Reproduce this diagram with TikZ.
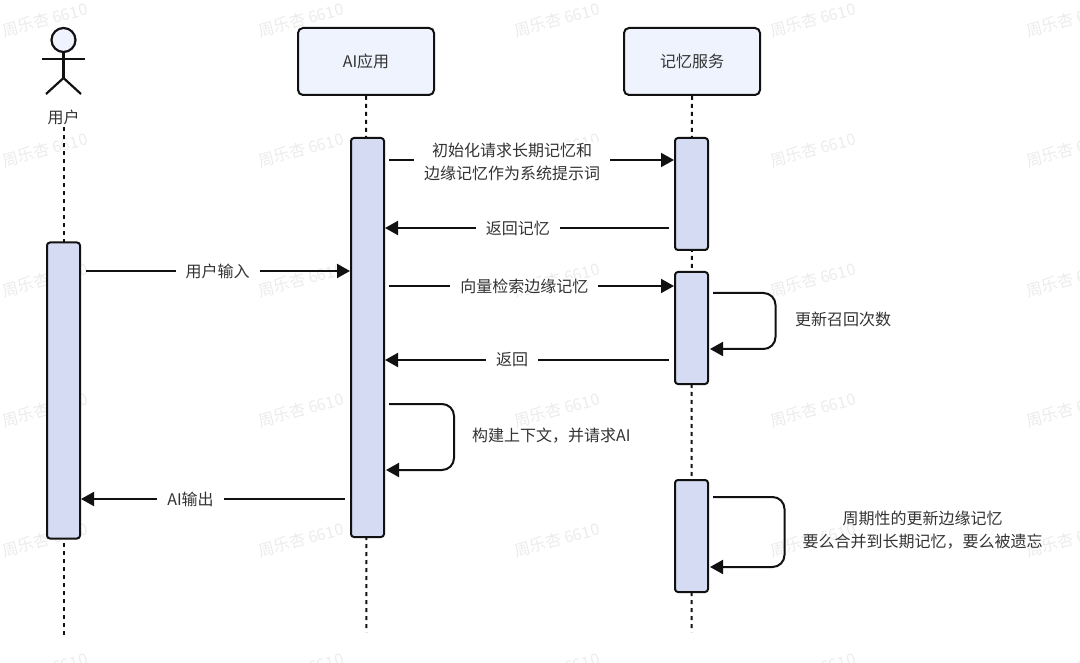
\documentclass[tikz,border=0pt]{standalone}
\usepackage{fontspec}
\newfontfamily\cjk{Noto Sans CJK SC}
\usepackage{tikz}
\usetikzlibrary{
  arrows.meta,
  positioning
}
\definecolor{LineBlack}{RGB}{17,17,17}
\definecolor{LabelGray}{RGB}{51,51,51}
\definecolor{HeadBlue}{RGB}{238,243,253}
\definecolor{BarBlue}{RGB}{212,219,242}
\definecolor{MarkGray}{RGB}{236,236,236}
\tikzset{
  headbox/.style={draw=LineBlack,fill=HeadBlue,line width=2pt,rounded corners=5pt,minimum width=136pt,minimum height=67pt,font=\cjk\fontsize{16}{20}\selectfont,text=LabelGray},
  barbox/.style={draw=LineBlack,fill=BarBlue,line width=2pt,rounded corners=3pt,minimum width=33pt,inner sep=0pt},
  lifeline/.style={line width=2pt,draw=LineBlack,dash pattern=on 4pt off 4pt},
  msg/.style={-{Triangle[length=13pt,width=14pt]},line width=2pt,draw=LineBlack},
  loopmsg/.style={msg,rounded corners=12pt},
  msglabel/.style={fill=white,inner xsep=10pt,inner ysep=1pt,align=center,font=\cjk\fontsize{16}{23}\selectfont,text=LabelGray},
  sidelabel/.style={inner sep=0pt,align=center,font=\cjk\fontsize{16}{23}\selectfont,text=LabelGray},
  actorline/.style={line width=2.2pt,draw=LineBlack},
  watermark/.style={rotate=15,text=MarkGray,font=\cjk\fontsize{16}{16}\selectfont}
}
\begin{document}
\begin{tikzpicture}[x=1pt,y=-1pt]
\useasboundingbox[fill=white] (0,0) rectangle (1080,663);
\foreach \wx in {45,301,557,813,1069}
  \foreach \wy in {20,150,280,410,540,670}
    \node[watermark] at (\wx,\wy) {周乐杏 6610};

\node[headbox] (app) at (366,61.5) {AI应用};
\node[headbox] (memory) at (692,61.5) {记忆服务};
\node[circle,draw=LineBlack,fill=HeadBlue,line width=2.2pt,minimum size=24pt,inner sep=0pt] (userhead) at (63.5,40) {};
\node[sidelabel,minimum height=20pt] (user) at (63.5,117) {用户};

\coordinate (neck) at (63.5,78);
\coordinate (armL) at (42,59);
\coordinate (armR) at (85,59);
\coordinate (legL) at (46,94);
\coordinate (legR) at (81,94);
\draw[actorline] (userhead) -- (neck);
\draw[actorline] (armL) -- (armR);
\draw[actorline] (legL) -- (neck) -- (legR);

\coordinate (userend) at (63.5,636);
\coordinate (append) at (366.5,632);
\coordinate (memoryend) at (691.5,632);
\draw[lifeline] (user.south) -- (userend);
\draw[lifeline] (app.south) -- (append);
\draw[lifeline] (memory.south) -- (memoryend);

\node[barbox,minimum height=296pt] (userbar) at (63.5,390.5) {};
\node[barbox,minimum height=399pt] (appbar) at (367.5,337.5) {};
\node[barbox,minimum height=112pt] (membar1) at (691.5,194) {};
\node[barbox,minimum height=112pt] (membar2) at (691.5,328) {};
\node[barbox,minimum height=112pt] (membar3) at (691.5,536) {};

\coordinate (r1) at (0,160);
\coordinate (r2) at (0,228);
\coordinate (r3) at (0,271);
\coordinate (r4) at (0,286);
\coordinate (r5) at (0,360);
\coordinate (r6) at (0,404);
\coordinate (r7) at (0,470);
\coordinate (r8) at (0,499);
\coordinate (r9) at (0,293);
\coordinate (r10) at (0,349);
\coordinate (r11) at (0,497);
\coordinate (r12) at (0,567);

\draw[msg,shorten <=4pt] (appbar.east |- r1) -- (membar1.west |- r1);
\node[msglabel] (initlabel) at (512,162) {初始化请求长期记忆和\\边缘记忆作为系统提示词};
\draw[msg,shorten <=5pt] (membar1.west |- r2) -- node[msglabel,pos=0.54] {返回记忆} (appbar.east |- r2);
\draw[msg,shorten <=5pt] (userbar.east |- r3) -- node[msglabel,pos=0.508] {用户输入} (appbar.west |- r3);
\draw[msg,shorten <=4pt] (appbar.east |- r4) -- node[msglabel,pos=0.482] {向量检索边缘记忆} (membar2.west |- r4);
\draw[msg,shorten <=5pt] (membar2.west |- r5) -- node[msglabel,pos=0.56] {返回} (appbar.east |- r5);
\draw[msg,shorten <=5pt] (appbar.west |- r8) -- node[msglabel,pos=0.593] {AI输出} (userbar.east |- r8);

\draw[loopmsg,shorten <=4pt,shorten >=1pt] (appbar.east |- r6) -- ++(69,0) |- (appbar.east |- r7);
\draw[loopmsg,shorten <=4pt,shorten >=1pt] (membar2.east |- r9) -- ++(66.5,0) |- (membar2.east |- r10);
\draw[loopmsg,shorten <=4pt,shorten >=1pt] (membar3.east |- r11) -- ++(75.5,0) |- (membar3.east |- r12);

\node[sidelabel,anchor=west] (buildlabel) at (472,436) {构建上下文，并请求AI};
\node[sidelabel,anchor=west] (countlabel) at (795,319) {更新召回次数};
\node[sidelabel] (cyclelabel) at (922.5,530) {周期性的更新边缘记忆\\要么合并到长期记忆，要么被遗忘};
\end{tikzpicture}
\end{document}
